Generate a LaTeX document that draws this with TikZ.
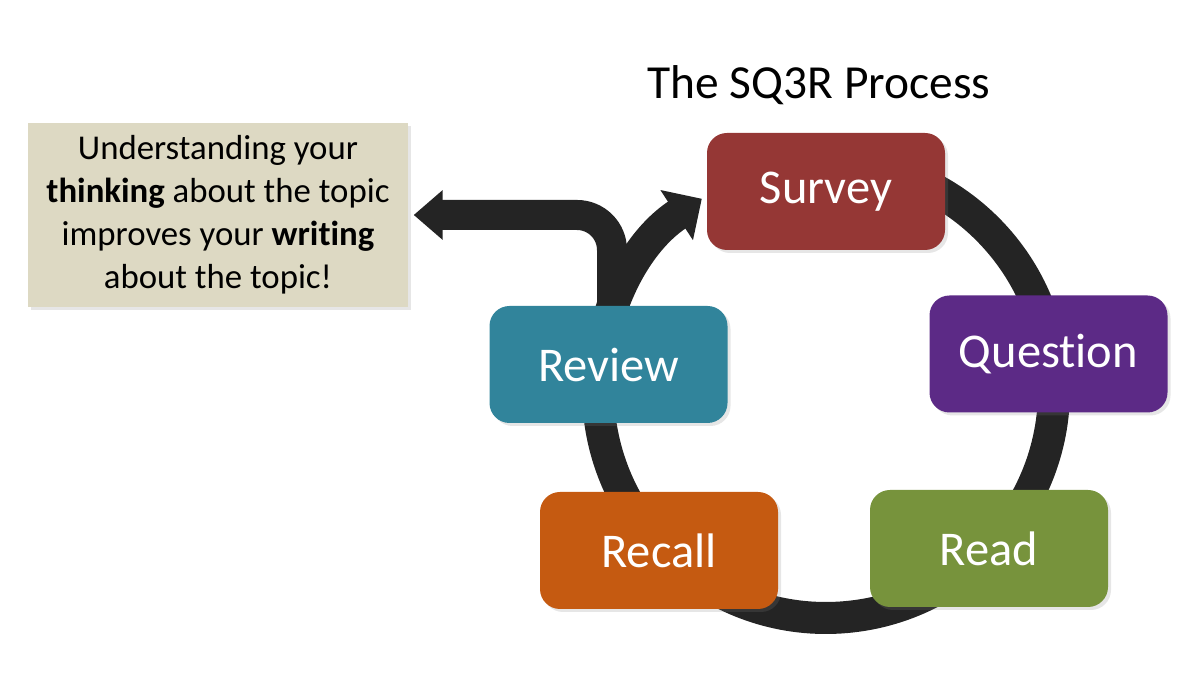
\documentclass[tikz,border=0pt]{standalone}
\usepackage{fontspec}
\setmainfont{Carlito}[Ligatures=NoCommon]
\usetikzlibrary{arrows.meta, shadows}

\definecolor{surveyred}{HTML}{953735}
\definecolor{questionpurple}{HTML}{5C2A86}
\definecolor{readgreen}{HTML}{77933C}
\definecolor{recallorange}{HTML}{C55A11}
\definecolor{reviewteal}{HTML}{31849B}
\definecolor{notetan}{HTML}{DDD9C3}
\definecolor{ringgray}{HTML}{242424}

\begin{document}
\begin{tikzpicture}[
    stage/.style={rectangle, rounded corners=0.2cm, minimum width=2.38cm, minimum height=1.17cm,
        text=white, font=\fontsize{13.8}{16}\selectfont,
        drop shadow={opacity=0.2, shadow xshift=0.03cm, shadow yshift=-0.03cm}},
    ring/.style={line width=0.32cm, draw=ringgray},
    branch/.style={line width=0.3cm, draw=ringgray, rounded corners=0.35cm}
]
    \useasboundingbox (0, 0) rectangle (12, 6.82);

    % Title and side note
    \node[anchor=base, font=\fontsize{13.5}{16}\selectfont] (title) at (8.19, 5.83) {The SQ3R Process};
    \node[fill=notetan, minimum width=3.8cm, minimum height=1.84cm, align=center,
        font=\fontsize{9.9}{12.2}\selectfont,
        drop shadow={opacity=0.2, shadow xshift=0.03cm, shadow yshift=-0.03cm}] (note) at (2.18, 4.67)
        {Understanding your\\\textbf{thinking} about the topic\\improves your \textbf{writing}\\about the topic!};

    % Cycle ring
    \coordinate (ctr) at (8.26, 2.92);
    \draw[ring, -{Triangle[width=0.58cm, length=0.3cm]}]
        (ctr) ++(95:2.28) arc[start angle=95, end angle=-237, radius=2.28];

    % Branch out to the note
    \coordinate (fork) at (6.12, 3.52);
    \draw[branch, -{Triangle[width=0.48cm, length=0.29cm]}, shorten >=0.05cm]
        (fork) |- (note.east);

    % Stages
    \node[stage, fill=surveyred] (survey) at (8.26, 4.905) {Survey};
    \node[stage, fill=questionpurple] (question) at (10.485, 3.28) {Question};
    \node[stage, fill=readgreen] (read) at (9.89, 1.335) {Read};
    \node[stage, fill=recallorange] (recall) at (6.59, 1.315) {Recall};
    \node[stage, fill=reviewteal] (review) at (6.085, 3.175) {Review};

\end{tikzpicture}
\end{document}
